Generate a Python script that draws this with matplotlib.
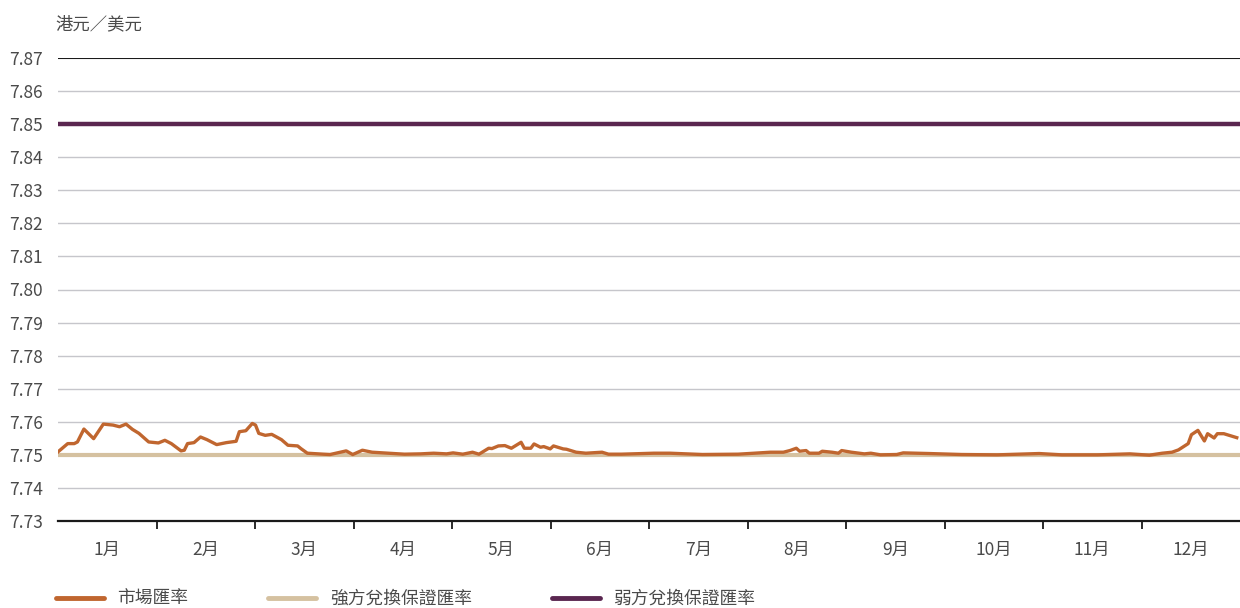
import matplotlib.pyplot as plt
import numpy as np

plt.rcParams["font.family"] = ["Noto Sans CJK TC", "DejaVu Sans"]

# day of year / HKD per USD (market rate)
days = [0, 3, 5, 6, 8, 11, 14, 17, 19, 21, 23, 25, 28, 31, 33, 35, 38, 39, 40, 42,
        44, 46, 49, 52, 55, 56, 58, 60, 61, 62, 64, 66, 69, 71, 74, 75, 77, 82,
        84, 89, 91, 94, 97, 102, 107, 112, 116, 120, 122, 125, 128, 130, 131, 133,
        134, 136, 138, 140, 143, 144, 146, 147, 149, 150, 152, 153, 156, 157, 160,
        163, 168, 170, 174, 184, 189, 199, 210, 215, 220, 224, 226, 228, 229, 231,
        232, 235, 236, 239, 241, 242, 245, 249, 251, 254, 259, 261, 265, 269, 279,
        290, 303, 310, 321, 331, 337, 341, 344, 346, 349, 350, 352, 354, 355, 357,
        358, 360, 362, 364]
market = [7.7509, 7.7534, 7.7534, 7.7539, 7.7578, 7.7549, 7.7593, 7.7590, 7.7585, 7.7593,
          7.7577, 7.7565, 7.7539, 7.7536, 7.7544, 7.7534, 7.7512, 7.7514, 7.7534, 7.7537,
          7.7554, 7.7546, 7.7531, 7.7537, 7.7541, 7.7570, 7.7573, 7.7595, 7.7590, 7.7565,
          7.7559, 7.7562, 7.7546, 7.7529, 7.7527, 7.7519, 7.7505, 7.7502,
          7.7501, 7.7512, 7.7501, 7.7514, 7.7508, 7.7505, 7.7502, 7.7503, 7.7505, 7.7503,
          7.7506, 7.7502, 7.7508, 7.7502, 7.7508, 7.7520,
          7.7519, 7.7527, 7.7528, 7.7520, 7.7538, 7.7520, 7.7520, 7.7533, 7.7523, 7.7525,
          7.7518, 7.7527, 7.7518, 7.7517, 7.7508,
          7.7505, 7.7508, 7.7502, 7.7502, 7.7505, 7.7505, 7.7501, 7.7502, 7.7505, 7.7508,
          7.7508, 7.7513, 7.7520, 7.7511, 7.7513,
          7.7505, 7.7505, 7.7511, 7.7508, 7.7505, 7.7513, 7.7508, 7.7503, 7.7505, 7.7500,
          7.7501, 7.7506, 7.7505, 7.7504, 7.7501,
          7.7500, 7.7504, 7.7500, 7.7500, 7.7503, 7.7499, 7.7505, 7.7508, 7.7515, 7.7534,
          7.7561, 7.7574, 7.7542, 7.7564, 7.7551,
          7.7564, 7.7564, 7.7558, 7.7552]

strong_side = 7.75
weak_side = 7.85
months = ["1月", "2月", "3月", "4月", "5月", "6月", "7月", "8月", "9月", "10月", "11月", "12月"]
yticks = [7.73, 7.74, 7.75, 7.76, 7.77, 7.78, 7.79, 7.80, 7.81, 7.82, 7.83, 7.84, 7.85, 7.86, 7.87]

C_MARKET = "#c0662f"
C_STRONG = "#d5c1a0"
C_WEAK = "#5a2650"
TXT = "#4a4a4a"

fig = plt.figure(figsize=(12.4, 6.08), dpi=100)
ax = fig.add_axes([58 / 1240, 1 - 521 / 608, 1182 / 1240, 463 / 608])

year_len = 365
ax.set_xlim(0, year_len)
ax.set_ylim(7.73, 7.87)

for v in yticks[1:-1]:
    ax.axhline(v, color="#c6c6cb", lw=1.0, zorder=1)
ax.axhline(7.87, color="#1a1a1a", lw=1.5, zorder=1)

l_strong, = ax.plot([0, year_len], [strong_side, strong_side], color=C_STRONG, lw=3.0,
                    solid_capstyle="butt", zorder=2, label="強方兌換保證匯率")
l_market, = ax.plot(days, market, color=C_MARKET, lw=2.4, solid_joinstyle="round",
                    zorder=3, label="市場匯率")
l_weak, = ax.plot([0, year_len], [weak_side, weak_side], color=C_WEAK, lw=3.2,
                  solid_capstyle="round", zorder=3, label="弱方兌換保證匯率")

for s in ["top", "right", "left"]:
    ax.spines[s].set_visible(False)
ax.spines["bottom"].set_color("#1a1a1a")
ax.spines["bottom"].set_linewidth(1.6)

ax.set_yticks(yticks)
ax.set_yticklabels([f"{v:.2f}" for v in yticks])
ax.tick_params(axis="y", length=0, pad=11, labelsize=12.5, labelcolor=TXT)

step = year_len / 12
ax.set_xticks([step * i for i in range(1, 12)])
ax.set_xticklabels([])
ax.tick_params(axis="x", which="major", length=6, width=1.3, color="#1a1a1a", direction="out")
ax.set_xticks([step * (i + 0.5) for i in range(12)], minor=True)
ax.set_xticklabels(months, minor=True)
ax.tick_params(axis="x", which="minor", length=0, pad=14, labelsize=12.5, labelcolor=TXT)

fig.text(55 / 1240, 1 - 24 / 608, "港元／美元", fontsize=12.5, color=TXT, va="center", ha="left")

fig.legend(handles=[l_market, l_strong, l_weak], loc="center left",
           bbox_to_anchor=(56 / 1240, 1 - 599 / 608), ncol=3, frameon=False,
           fontsize=12.8, labelcolor=TXT, handlelength=2.7, handletextpad=0.75,
           columnspacing=4.5, borderpad=0, borderaxespad=0)
for h in fig.legends[0].legend_handles:
    h.set_linewidth(3.5)
    h.set_solid_capstyle("round")

fig.savefig("out.png", dpi=100)
